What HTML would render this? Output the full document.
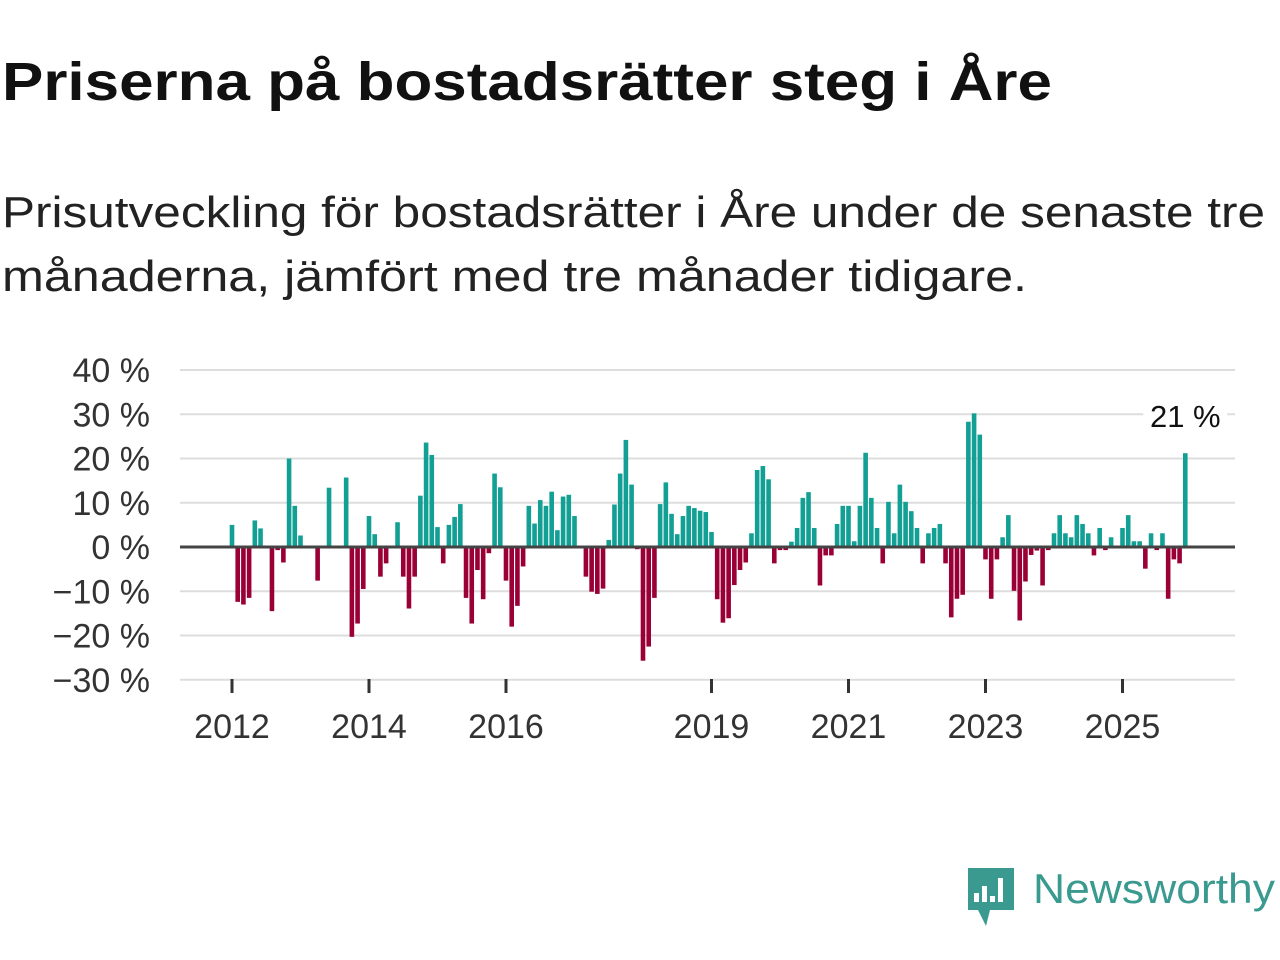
<!DOCTYPE html>
<html><head><meta charset="utf-8"><style>
html,body{margin:0;padding:0;background:#fff;}
svg{display:block;font-family:"Liberation Sans",sans-serif;}
</style></head><body>
<svg id="chart" width="1280" height="960" viewBox="0 0 1280 960" xmlns="http://www.w3.org/2000/svg">
<text x="2" y="100" font-size="54" font-weight="bold" fill="#111" textLength="1050" lengthAdjust="spacingAndGlyphs">Priserna på bostadsrätter steg i Åre</text>
<text x="2" y="227" font-size="44" fill="#222" textLength="1263" lengthAdjust="spacingAndGlyphs">Prisutveckling för bostadsrätter i Åre under de senaste tre</text>
<text x="2" y="291" font-size="44" fill="#222" textLength="1025" lengthAdjust="spacingAndGlyphs">månaderna, jämfört med tre månader tidigare.</text>
<g id="grid"></g><g id="bars"></g><g id="axis"></g>
<g>
<path d="M968 868 h46 v42 h-24 l-4 16 l-8 -16 h-10 z" fill="#3a9a8f"/>
<rect x="974" y="893" width="5" height="9" fill="#fff"/><rect x="982" y="886" width="5" height="16" fill="#fff"/><rect x="990" y="896" width="5" height="6" fill="#fff"/><rect x="998" y="878" width="5" height="24" fill="#fff"/>
<text x="1033" y="903" font-size="42" fill="#3a9a8f" textLength="242" lengthAdjust="spacingAndGlyphs">Newsworthy</text>
</g>
</svg>
<script>
const yTicks=[40,30,20,10,0,-10,-20,-30];
const xTickYears=[2012,2014,2016,2019,2021,2023,2025];
const values=[5,-12.4,-13,-11.5,6,4.2,null,-14.5,-0.7,-3.5,20,9.3,2.6,null,null,-7.6,null,13.4,null,null,15.7,-20.3,-17.3,-9.5,7,2.9,-6.7,-3.7,null,5.6,-6.7,-13.9,-6.7,11.6,23.6,20.8,4.5,-3.7,5,6.8,9.7,-11.5,-17.3,-5.2,-11.8,-1.4,16.6,13.5,-7.6,-18,-13.3,-4.4,9.3,5.3,10.6,9.3,12.5,3.8,11.4,11.8,7,null,-6.7,-10.1,-10.6,-9.4,1.6,9.6,16.6,24.2,14.1,-0.5,-25.7,-22.5,-11.5,9.7,14.6,7.5,2.9,7,9.3,8.8,8.2,7.9,3.4,-11.8,-17.1,-16.1,-8.6,-5.2,-3.5,3.1,17.4,18.3,15.3,-3.7,-0.7,-0.7,1.2,4.3,11.1,12.4,4.3,-8.7,-1.9,-1.9,5.2,9.3,9.3,1.3,9.3,21.3,11.1,4.3,-3.7,10.2,3.1,14.1,10.2,8.1,4.3,-3.7,3.1,4.3,5.2,-3.7,-15.9,-11.7,-10.8,28.3,30.2,25.4,-2.8,-11.7,-2.8,2.2,7.2,-9.9,-16.6,-7.8,-1.8,-0.8,-8.7,-0.7,3.1,7.2,3.1,2.2,7.2,5.2,3.1,-1.9,4.3,-0.7,2.2,null,4.3,7.2,1.3,1.3,-4.9,3.1,-0.7,3.1,-11.7,-2.8,-3.7,21.2];
const lastLabel=["21 %"];
const NS="http://www.w3.org/2000/svg";
const y0=547, pxPer=4.425;
function yS(v){return y0-v*pxPer;}
const x0=232, monthW=68.5/12;
function xS(m){return x0+m*monthW;}
function xYear(yr){return xS((yr-2012)*12);}
function mk(tag,attrs,parent){const e=document.createElementNS(NS,tag);for(const k in attrs)e.setAttribute(k,attrs[k]);parent.appendChild(e);return e;}
const grid=document.getElementById('grid'),bars=document.getElementById('bars'),axis=document.getElementById('axis');
yTicks.forEach(t=>{
  const l=mk('line',{x1:180,x2:1235,y1:yS(t),y2:yS(t),stroke:'#dddddd','stroke-width':2},grid);
  
  
  const tx=mk('text',{x:150,y:yS(t)+12,'text-anchor':'end','font-size':34,fill:'#333'},axis);
  tx.textContent=(t<0?'\u2212'+(-t):t)+' %';
  
  
});
values.forEach((v,m)=>{
  if(v===null)return;
  const x=xS(m)-2.3;
  const r=mk('rect',{x:x,width:4.6,y:Math.min(yS(v),y0),height:Math.abs(v*pxPer),fill:v>=0?'#12a095':'#9a0036'},bars);
  
  
});
const zl=mk('line',{x1:180,x2:1235,y1:y0,y2:y0,stroke:'#444','stroke-width':3},axis);


xTickYears.forEach(yr=>{
  const x=xYear(yr);
  const tk=mk('line',{x1:x,x2:x,y1:679,y2:693,stroke:'#333','stroke-width':3},axis);
  
  
  const tx=mk('text',{x:x,y:738,'text-anchor':'middle','font-size':34,fill:'#333'},axis);
  tx.textContent=yr;
  
  
});
const lm=values.length-1;
const bg=mk('rect',{x:xS(lm)-42,y:yS(values[lm])-56,width:84,height:36,fill:'#fff'},axis);


const an=mk('text',{x:xS(lm),y:yS(values[lm])-26,'text-anchor':'middle','font-size':31,fill:'#111'},axis);
an.textContent=lastLabel[0];


</script>
</body></html>
